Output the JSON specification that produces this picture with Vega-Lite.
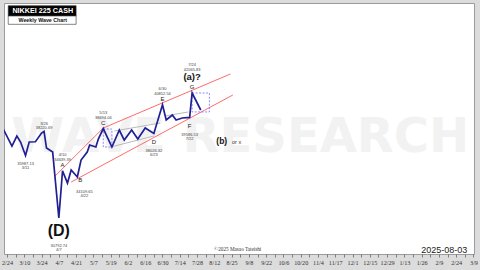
{
  "$schema": "https://vega.github.io/schema/vega-lite/v6.json",
  "width": 470,
  "height": 251,
  "autosize": {"type": "none"},
  "padding": {"left": 4, "top": 3, "right": 6, "bottom": 16},
  "background": "#dcdcdc",
  "config": {
    "view": {"fill": "#ffffff", "stroke": "#9c9c9c", "strokeWidth": 1},
    "text": {"font": "Liberation Sans"}
  },
  "datasets": {
    "wave": [
      {"date": "2025-02-21", "price": 38450},
      {"date": "2025-02-28", "price": 36850},
      {"date": "2025-03-04", "price": 37785},
      {"date": "2025-03-07", "price": 37223},
      {"date": "2025-03-11", "price": 35987.13, "pivot": "low"},
      {"date": "2025-03-14", "price": 37223},
      {"date": "2025-03-19", "price": 37250},
      {"date": "2025-03-24", "price": 38069},
      {"date": "2025-03-26", "price": 38220.69, "pivot": "high"},
      {"date": "2025-03-28", "price": 36670},
      {"date": "2025-04-02", "price": 36303},
      {"date": "2025-04-07", "price": 30792.74, "pivot": "low", "wave": "(D)"},
      {"date": "2025-04-10", "price": 34639.39, "pivot": "high", "wave": "A"},
      {"date": "2025-04-14", "price": 33602},
      {"date": "2025-04-17", "price": 34709},
      {"date": "2025-04-22", "price": 34109.65, "pivot": "low", "wave": "B"},
      {"date": "2025-04-25", "price": 35587},
      {"date": "2025-04-30", "price": 36303},
      {"date": "2025-05-02", "price": 36945},
      {"date": "2025-05-07", "price": 36762},
      {"date": "2025-05-09", "price": 37503},
      {"date": "2025-05-13", "price": 38494.06, "pivot": "high", "wave": "C"},
      {"date": "2025-05-20", "price": 36762},
      {"date": "2025-05-26", "price": 38355},
      {"date": "2025-05-30", "price": 37410},
      {"date": "2025-06-05", "price": 38355},
      {"date": "2025-06-10", "price": 37503},
      {"date": "2025-06-16", "price": 38545},
      {"date": "2025-06-23", "price": 38026.32, "pivot": "low", "wave": "D"},
      {"date": "2025-06-30", "price": 40852.54, "pivot": "high", "wave": "E"},
      {"date": "2025-07-03", "price": 39323},
      {"date": "2025-07-08", "price": 39820},
      {"date": "2025-07-11", "price": 39323},
      {"date": "2025-07-16", "price": 39520},
      {"date": "2025-07-22", "price": 39586.53, "pivot": "low", "wave": "F"},
      {"date": "2025-07-24", "price": 42065.83, "pivot": "high", "wave": "G", "note": "(a)?"},
      {"date": "2025-07-31", "price": 40320}
    ],
    "channel": [
      {"edge": "upper", "date": "2025-04-04", "price": 34195},
      {"edge": "upper", "date": "2025-05-13", "price": 38545},
      {"edge": "upper", "date": "2025-08-24", "price": 44109},
      {"edge": "lower", "date": "2025-04-17", "price": 33686},
      {"edge": "lower", "date": "2025-08-26", "price": 41856}
    ],
    "guides": [
      {"edge": "g1", "date": "2025-05-22", "price": 38260},
      {"edge": "g1", "date": "2025-06-28", "price": 39029},
      {"edge": "g2", "date": "2025-05-19", "price": 36762},
      {"edge": "g2", "date": "2025-06-23", "price": 37785},
      {"edge": "g3", "date": "2025-07-02", "price": 39719},
      {"edge": "g3", "date": "2025-07-21", "price": 40122}
    ],
    "boxes": [
      {"date": "2025-05-13", "end": "2025-05-20", "price": 38450, "low": 36762},
      {"date": "2025-07-24", "end": "2025-08-07", "price": 42065.83, "low": 40122}
    ],
    "notes": [
      {"kind": "wave", "date": "2025-08-17", "price": 37317, "text": "(b)"},
      {"kind": "alt", "date": "2025-08-29", "price": 37223, "text": "or x"}
    ],
    "watermark": [
      {"date": "2025-09-01", "price": 36306, "text": "WAVE RESEARCH"}
    ],
    "footer": [
      {"kind": "credit", "date": "2025-08-30", "price": 28500, "text": "©2025 Masao Tateishi"},
      {"kind": "stamp", "date": "2026-03-04", "price": 28429, "text": "2025-08-03"}
    ],
    "caption_box": [
      {"part": "name", "date": "2025-02-25", "end": "2025-04-21", "price": 52306, "low": 50978},
      {"part": "subtitle", "date": "2025-02-25", "end": "2025-04-21", "price": 50978, "low": 49933}
    ],
    "caption_text": [
      {"part": "name", "date": "2025-03-25", "price": 51618, "text": "NIKKEI 225 CASH"},
      {"part": "subtitle", "date": "2025-03-25", "price": 50472, "text": "Weekly Wave Chart"}
    ]
  },
  "encoding": {
    "x": {
      "field": "date",
      "type": "temporal",
      "scale": {"type": "utc", "domain": [1740145161600, 1773049737600]},
      "axis": {
        "title": null,
        "domain": false,
        "grid": false,
        "values": [1740355200000, 1740960000000, 1741564800000, 1742169600000, 1742774400000, 1743379200000, 1743984000000, 1744588800000, 1745193600000, 1745798400000, 1746403200000, 1747008000000, 1747612800000, 1748217600000, 1748822400000, 1749427200000, 1750032000000, 1750636800000, 1751241600000, 1751846400000, 1752451200000, 1753056000000, 1753660800000, 1754265600000, 1754870400000, 1755475200000, 1756080000000, 1756684800000, 1757289600000, 1757894400000, 1758499200000, 1759104000000, 1759708800000, 1760313600000, 1760918400000, 1761523200000, 1762128000000, 1762732800000, 1763337600000, 1763942400000, 1764547200000, 1765152000000, 1765756800000, 1766361600000, 1766966400000, 1767571200000, 1768176000000, 1768780800000, 1769385600000, 1769990400000, 1770595200000, 1771200000000, 1771804800000, 1772409600000, 1773014400000],
        "labelExpr": "round((datum.value - 1740355200000) / 604800000) % 2 == 1 ? '' : utcFormat(datum.value, '%m%d') == '0505' ? '5/7' : utcFormat(datum.value, '%m%d') == '0811' ? '8/12' : utcFormat(datum.value, '%m%d') == '1103' ? '11/4' : utcFormat(datum.value, '%m%d') == '0112' ? '1/13' : utcFormat(datum.value, '%m%d') == '0223' ? '2/24' : utcFormat(datum.value, '%-m/%-d')",
        "labelFont": "Liberation Serif",
        "labelFontSize": 6.2,
        "labelColor": "#333333",
        "labelPadding": 2,
        "labelOverlap": false,
        "labelFlush": false,
        "labelBound": false,
        "tickColor": "#666666",
        "tickSize": 3,
        "tickWidth": 0.8
      }
    },
    "y": {
      "field": "price",
      "type": "quantitative",
      "scale": {"type": "log", "domain": [28147, 52661], "nice": false, "zero": false},
      "axis": null
    }
  },
  "layer": [
    {
      "data": {"name": "watermark", "format": {"parse": {"date": "date"}}},
      "mark": {"type": "text", "font": "DejaVu Sans", "fontWeight": "bold", "fontSize": 48, "fill": "#f2f2f2", "align": "center", "baseline": "alphabetic"},
      "encoding": {"text": {"field": "text"}}
    },
    {
      "data": {"name": "channel", "format": {"parse": {"date": "date"}}},
      "mark": {"type": "line", "stroke": "#ff6b6b", "strokeWidth": 1, "clip": true},
      "encoding": {"detail": {"field": "edge"}}
    },
    {
      "data": {"name": "guides", "format": {"parse": {"date": "date"}}},
      "mark": {"type": "line", "stroke": "#a8a8a8", "strokeWidth": 0.8},
      "encoding": {"detail": {"field": "edge"}}
    },
    {
      "data": {"name": "boxes", "format": {"parse": {"date": "date", "end": "date"}}},
      "mark": {"type": "rect", "fill": null, "fillOpacity": 0, "stroke": "#6f6fff", "strokeWidth": 0.8, "strokeDash": [2, 1.5]},
      "encoding": {"x2": {"field": "end"}, "y2": {"field": "low"}}
    },
    {
      "data": {"name": "wave", "format": {"parse": {"date": "date"}}},
      "transform": [
        {"calculate": "[utcFormat(datum.date, '%-m/%-d'), format(datum.price, '.2f')]", "as": "tag_up"},
        {"calculate": "[format(datum.price, '.2f'), utcFormat(datum.date, '%-m/%-d')]", "as": "tag_down"}
      ],
      "layer": [
        {"mark": {"type": "line", "stroke": "#1f1f96", "strokeWidth": 1.7, "clip": true}},
        {
          "transform": [{"filter": "datum.wave == 'A' || datum.wave == 'C' || datum.wave == 'E'"}],
          "layer": [
            {"mark": {"type": "text", "fontSize": 6, "fill": "#222222", "baseline": "middle", "dy": -6}, "encoding": {"text": {"field": "wave"}}},
            {"mark": {"type": "text", "fontSize": 4, "fill": "#444444", "baseline": "middle", "lineHeight": 4.8, "dy": -15.5}, "encoding": {"text": {"field": "tag_up"}}}
          ]
        },
        {
          "transform": [{"filter": "datum.wave == 'G'"}],
          "layer": [
            {"mark": {"type": "text", "fontSize": 6, "fill": "#222222", "baseline": "middle", "dy": -5.7}, "encoding": {"text": {"field": "wave"}}},
            {"mark": {"type": "text", "fontSize": 9.5, "fontWeight": "bold", "fill": "#111111", "baseline": "middle", "dy": -16.3}, "encoding": {"text": {"field": "note"}}},
            {"mark": {"type": "text", "fontSize": 4, "fill": "#444444", "baseline": "middle", "lineHeight": 5.5, "dy": -28.2}, "encoding": {"text": {"field": "tag_up"}}}
          ]
        },
        {
          "transform": [{"filter": "datum.pivot == 'high' && !datum.wave"}],
          "mark": {"type": "text", "fontSize": 4, "fill": "#444444", "baseline": "middle", "lineHeight": 4.5, "dy": -7.7},
          "encoding": {"text": {"field": "tag_up"}}
        },
        {
          "transform": [{"filter": "datum.pivot == 'low' && !datum.wave"}],
          "mark": {"type": "text", "fontSize": 4, "fill": "#444444", "baseline": "middle", "lineHeight": 4.3, "dy": 8.4},
          "encoding": {"text": {"field": "tag_down"}}
        },
        {
          "transform": [{"filter": "datum.wave == 'D' || datum.wave == 'F'"}],
          "layer": [
            {"mark": {"type": "text", "fontSize": 6, "fill": "#222222", "baseline": "middle", "dy": 8.5}, "encoding": {"text": {"field": "wave"}}},
            {"mark": {"type": "text", "fontSize": 4, "fill": "#444444", "baseline": "middle", "lineHeight": 4.2, "dy": 17.3}, "encoding": {"text": {"field": "tag_down"}}}
          ]
        },
        {
          "transform": [{"filter": "datum.wave == 'B'"}],
          "layer": [
            {"mark": {"type": "text", "fontSize": 6, "fill": "#222222", "baseline": "middle", "dx": 3, "dy": 3}, "encoding": {"text": {"field": "wave"}}},
            {"mark": {"type": "text", "fontSize": 4, "fill": "#444444", "baseline": "middle", "lineHeight": 4.2, "dx": 7, "dy": 15}, "encoding": {"text": {"field": "tag_down"}}}
          ]
        },
        {
          "transform": [{"filter": "datum.wave == '(D)'"}],
          "layer": [
            {"mark": {"type": "text", "fontSize": 16, "fontWeight": "bold", "fill": "#111111", "baseline": "middle", "dy": 13}, "encoding": {"text": {"field": "wave"}}},
            {"mark": {"type": "text", "fontSize": 4, "fill": "#444444", "baseline": "middle", "lineHeight": 4.2, "dy": 28}, "encoding": {"text": {"field": "tag_down"}}}
          ]
        }
      ]
    },
    {
      "data": {"name": "notes", "format": {"parse": {"date": "date"}}},
      "layer": [
        {"transform": [{"filter": "datum.kind == 'wave'"}], "mark": {"type": "text", "fontSize": 8.5, "fontWeight": "bold", "fill": "#111111", "baseline": "middle"}, "encoding": {"text": {"field": "text"}}},
        {"transform": [{"filter": "datum.kind == 'alt'"}], "mark": {"type": "text", "fontSize": 5.5, "fill": "#333333", "baseline": "middle"}, "encoding": {"text": {"field": "text"}}}
      ]
    },
    {
      "data": {"name": "footer", "format": {"parse": {"date": "date"}}},
      "layer": [
        {"transform": [{"filter": "datum.kind == 'credit'"}], "mark": {"type": "text", "font": "Liberation Serif", "fontSize": 5.2, "fill": "#333333", "baseline": "middle", "align": "center"}, "encoding": {"text": {"field": "text"}}},
        {"transform": [{"filter": "datum.kind == 'stamp'"}], "mark": {"type": "text", "fontSize": 9, "fill": "#222222", "baseline": "middle", "align": "right"}, "encoding": {"text": {"field": "text"}}}
      ]
    },
    {
      "data": {"name": "caption_box", "format": {"parse": {"date": "date", "end": "date"}}},
      "mark": {"type": "rect", "stroke": "#333333", "strokeWidth": 0.6},
      "encoding": {
        "x2": {"field": "end"},
        "y2": {"field": "low"},
        "fill": {"field": "part", "type": "nominal", "scale": {"domain": ["name", "subtitle"], "range": ["#000000", "#ffffff"]}, "legend": null}
      }
    },
    {
      "data": {"name": "caption_text", "format": {"parse": {"date": "date"}}},
      "layer": [
        {"transform": [{"filter": "datum.part == 'name'"}], "mark": {"type": "text", "fontSize": 7.2, "fontWeight": "bold", "fill": "#ffffff", "baseline": "middle"}, "encoding": {"text": {"field": "text"}}},
        {"transform": [{"filter": "datum.part == 'subtitle'"}], "mark": {"type": "text", "fontSize": 5.3, "fontWeight": "bold", "fill": "#111111", "baseline": "middle"}, "encoding": {"text": {"field": "text"}}}
      ]
    }
  ]
}
